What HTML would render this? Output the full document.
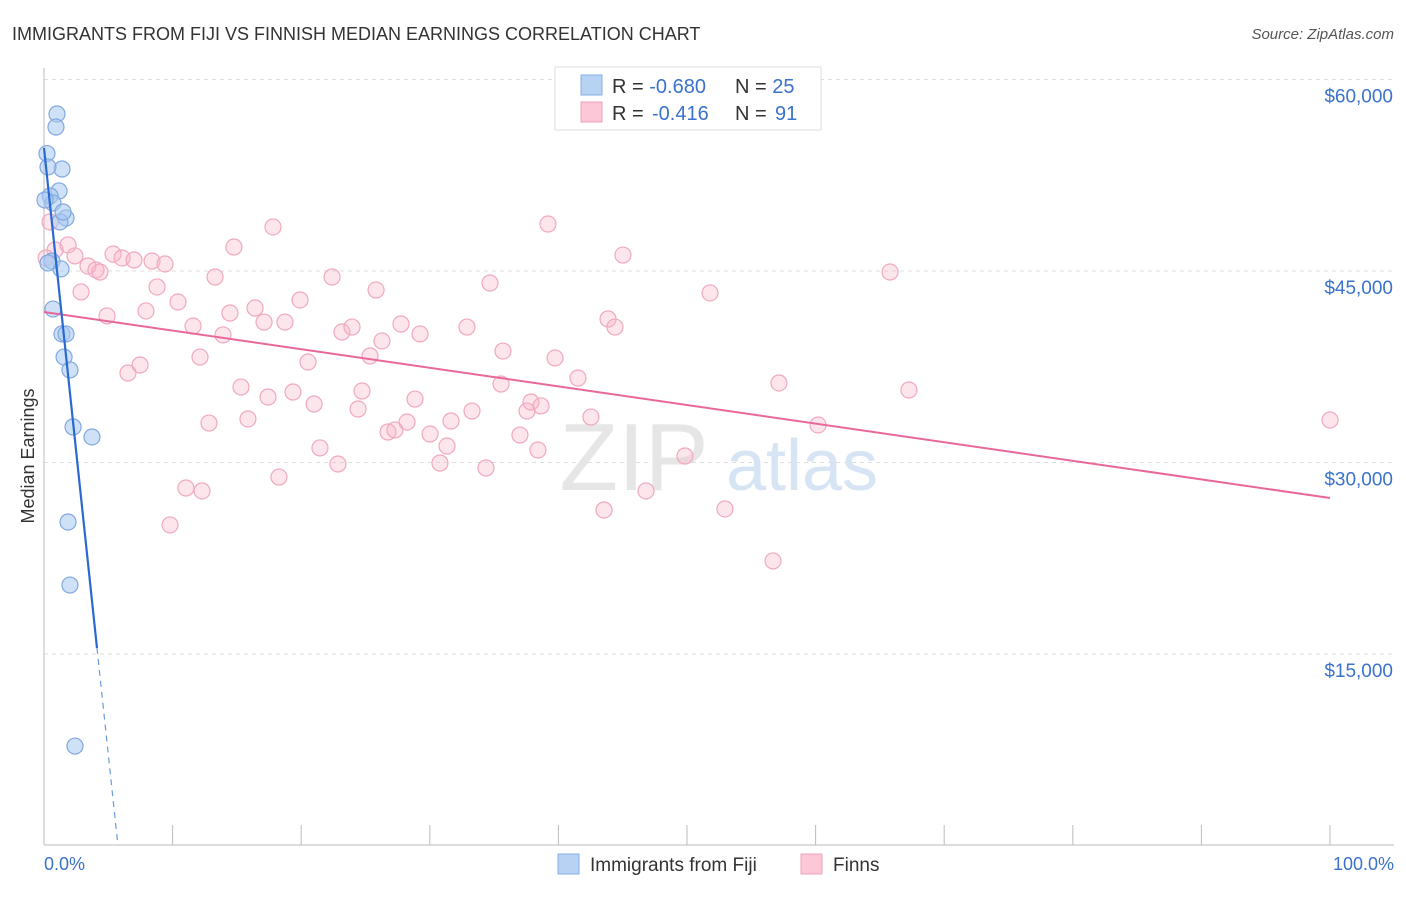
<!DOCTYPE html>
<html><head><meta charset="utf-8"><style>
body{margin:0;background:#fff;font-family:"Liberation Sans",sans-serif}
svg text{font-family:"Liberation Sans",sans-serif}
</style></head><body>
<svg id="chart" width="1406" height="892" viewBox="0 0 1406 892" xmlns="http://www.w3.org/2000/svg">
<text x="12" y="40" font-size="18" fill="#333">IMMIGRANTS FROM FIJI VS FINNISH MEDIAN EARNINGS CORRELATION CHART</text>
<text x="1394" y="39" font-size="15" fill="#555" font-style="italic" text-anchor="end">Source: ZipAtlas.com</text>
<g id="grid"></g>
<g id="yticks"></g>
<line x1="44" y1="845" x2="1394" y2="845" stroke="#bbb"/>
<line x1="44" y1="68" x2="44" y2="845" stroke="#bbb"/>
<g id="xticks"></g>
<text transform="translate(34,456) rotate(-90)" font-size="18" fill="#333" text-anchor="middle">Median Earnings</text>
<text x="44" y="870" font-size="18" fill="#3a72cc">0.0%</text>
<text x="1394" y="870" font-size="18" fill="#3a72cc" text-anchor="end">100.0%</text>
<g>
<text x="634" y="490" font-size="96" fill="#e6e6e6" font-family="Liberation Serif" text-anchor="middle">ZIP</text>
<text x="802" y="490" font-size="72" fill="#d6e4f4" text-anchor="middle">atlas</text>
</g>
<g id="pinkpts"></g>
<g id="bluepts"></g>
<g id="lines"></g>
<g>
<rect x="555" y="67" width="266" height="63" fill="#fff" stroke="#ddd"/>
<rect x="581" y="75" width="21" height="20" fill="#b8d2f4" stroke="#85aee6"/>
<rect x="581" y="102" width="21" height="20" fill="#fcc8d8" stroke="#f0a0b8"/>
<text x="612" y="93" font-size="20" fill="#333">R = <tspan fill="#3a72cc">-0.680</tspan><tspan x="735">N = </tspan><tspan fill="#3a72cc">25</tspan></text>
<text x="612" y="120" font-size="20" fill="#333">R = <tspan fill="#3a72cc" x="652">-0.416</tspan><tspan x="735">N = </tspan><tspan fill="#3a72cc" x="775">91</tspan></text>
</g>
<g>
<rect x="558" y="854" width="21" height="20" fill="#b8d2f4" stroke="#85aee6"/>
<text x="590" y="871" font-size="19" fill="#333">Immigrants from Fiji</text>
<rect x="801" y="854" width="21" height="20" fill="#fcc8d8" stroke="#f0a0b8"/>
<text x="833" y="871" font-size="19" fill="#333">Finns</text>
</g>
</svg>
<script>
const yTickValues=[15000,30000,45000,60000];
const yTickLabels=["$15,000","$30,000","$45,000","$60,000"];
const xTickValues=[0,10,20,30,40,50,60,70,80,90,100];
const fijiX=[0.23,1.01,0.93,1.40,0.31,1.17,0.47,0.70,1.71,1.24,0.62,1.32,0.70,1.40,1.71,1.56,2.02,2.26,3.73,1.87,2.02,2.41,0.31,1.48,0.08];
const fijiY=[54200,57300,56280,52990,53150,51270,50880,50330,49150,48840,45780,45160,42020,40070,40070,38260,37250,32780,32000,25340,20400,7790,45630,49620,50560];
const finnsX=[0.47,0.86,1.87,2.41,3.42,4.04,4.35,2.88,4.90,5.37,6.07,7.00,8.40,9.41,6.53,7.47,7.93,8.79,9.80,10.42,11.04,11.59,12.13,12.29,12.83,13.30,13.92,14.46,14.77,15.32,15.86,16.41,17.11,17.42,17.81,18.27,18.74,19.36,19.91,20.53,21.00,21.46,22.40,22.86,23.17,23.95,24.42,24.73,25.35,25.82,26.28,26.75,27.29,27.76,28.23,28.85,29.24,30.02,30.79,31.34,31.65,32.89,33.28,34.37,34.68,35.54,35.69,37.01,37.56,37.87,38.41,38.65,39.19,39.74,41.52,42.53,43.55,43.86,44.40,45.02,46.81,49.84,51.79,52.95,56.69,57.15,60.19,65.79,67.26,100,0.16];
const finnsY=[48840,46650,47040,46180,45390,45080,44920,43360,41480,46330,46020,45860,45780,45550,37010,37640,41870,43750,25110,42570,28000,40690,38260,27770,33090,44530,39990,41710,46880,35910,33410,42100,41000,35130,48450,28860,41000,35520,42730,37870,34580,31140,44530,29880,40220,40610,34190,35600,38340,43510,39520,32390,32550,40850,33170,34970,40070,32230,29960,31290,33250,40610,34030,29570,44060,36150,38730,32150,34030,34740,30980,34430,48680,38190,36620,33560,26280,41240,40610,46250,27770,30510,43280,26360,22290,36230,32940,44920,35680,33330,46020];
const fijiTrend=[[0,54640],[4.12,15470]];
const fijiTrendExt=[[4.12,15470],[5.75,0]];
const finnsTrend=[[0,41790],[100,27220]];
const NS="http://www.w3.org/2000/svg";
const xs=v=>44+v*12.86;
const ys=v=>845.5-v*191.5/15000;
function mk(tag,attrs,parent){const e=document.createElementNS(NS,tag);for(const k in attrs)e.setAttribute(k,attrs[k]);parent.appendChild(e);return e;}
const grid=document.getElementById('grid'),yt=document.getElementById('yticks'),xt=document.getElementById('xticks');
yTickValues.forEach((v,i)=>{
 const l=mk('line',{x1:44,x2:1394,y1:ys(v),y2:ys(v),stroke:'#ddd','stroke-dasharray':'4,4'},grid);
 
 
 const t=mk('text',{x:1393,y:ys(v)+23,'font-size':19,fill:'#3a72cc','text-anchor':'end'},yt);
 t.textContent=yTickLabels[i];
 
 
});
xTickValues.forEach(v=>{
 const l=mk('line',{x1:xs(v),x2:xs(v),y1:825,y2:845,stroke:'#bbb'},xt);
 
 
});
const pp=document.getElementById('pinkpts');
finnsX.forEach((x,i)=>{
 const c=mk('circle',{cx:xs(x),cy:ys(finnsY[i]),r:8,fill:'rgba(248,180,200,0.35)',stroke:'#f0a8be','stroke-width':1.2},pp);
 
 
});
const bp=document.getElementById('bluepts');
fijiX.forEach((x,i)=>{
 const c=mk('circle',{cx:xs(x),cy:ys(fijiY[i]),r:8,fill:'rgba(168,200,240,0.55)',stroke:'#80a8e0','stroke-width':1.2},bp);
 
 
});
const lg=document.getElementById('lines');
let l1=mk('line',{x1:xs(finnsTrend[0][0]),y1:ys(finnsTrend[0][1]),x2:xs(finnsTrend[1][0]),y2:ys(finnsTrend[1][1]),stroke:'#e8689a','stroke-width':2},lg);


let l2=mk('line',{x1:xs(fijiTrend[0][0]),y1:ys(fijiTrend[0][1]),x2:xs(fijiTrend[1][0]),y2:ys(fijiTrend[1][1]),stroke:'#2a6ad0','stroke-width':2.2},lg);


let l3=mk('line',{x1:xs(fijiTrendExt[0][0]),y1:ys(fijiTrendExt[0][1]),x2:xs(fijiTrendExt[1][0]),y2:ys(fijiTrendExt[1][1]),stroke:'#6a9ae0','stroke-width':1.2,'stroke-dasharray':'6,5'},lg);


</script>
</body></html>
